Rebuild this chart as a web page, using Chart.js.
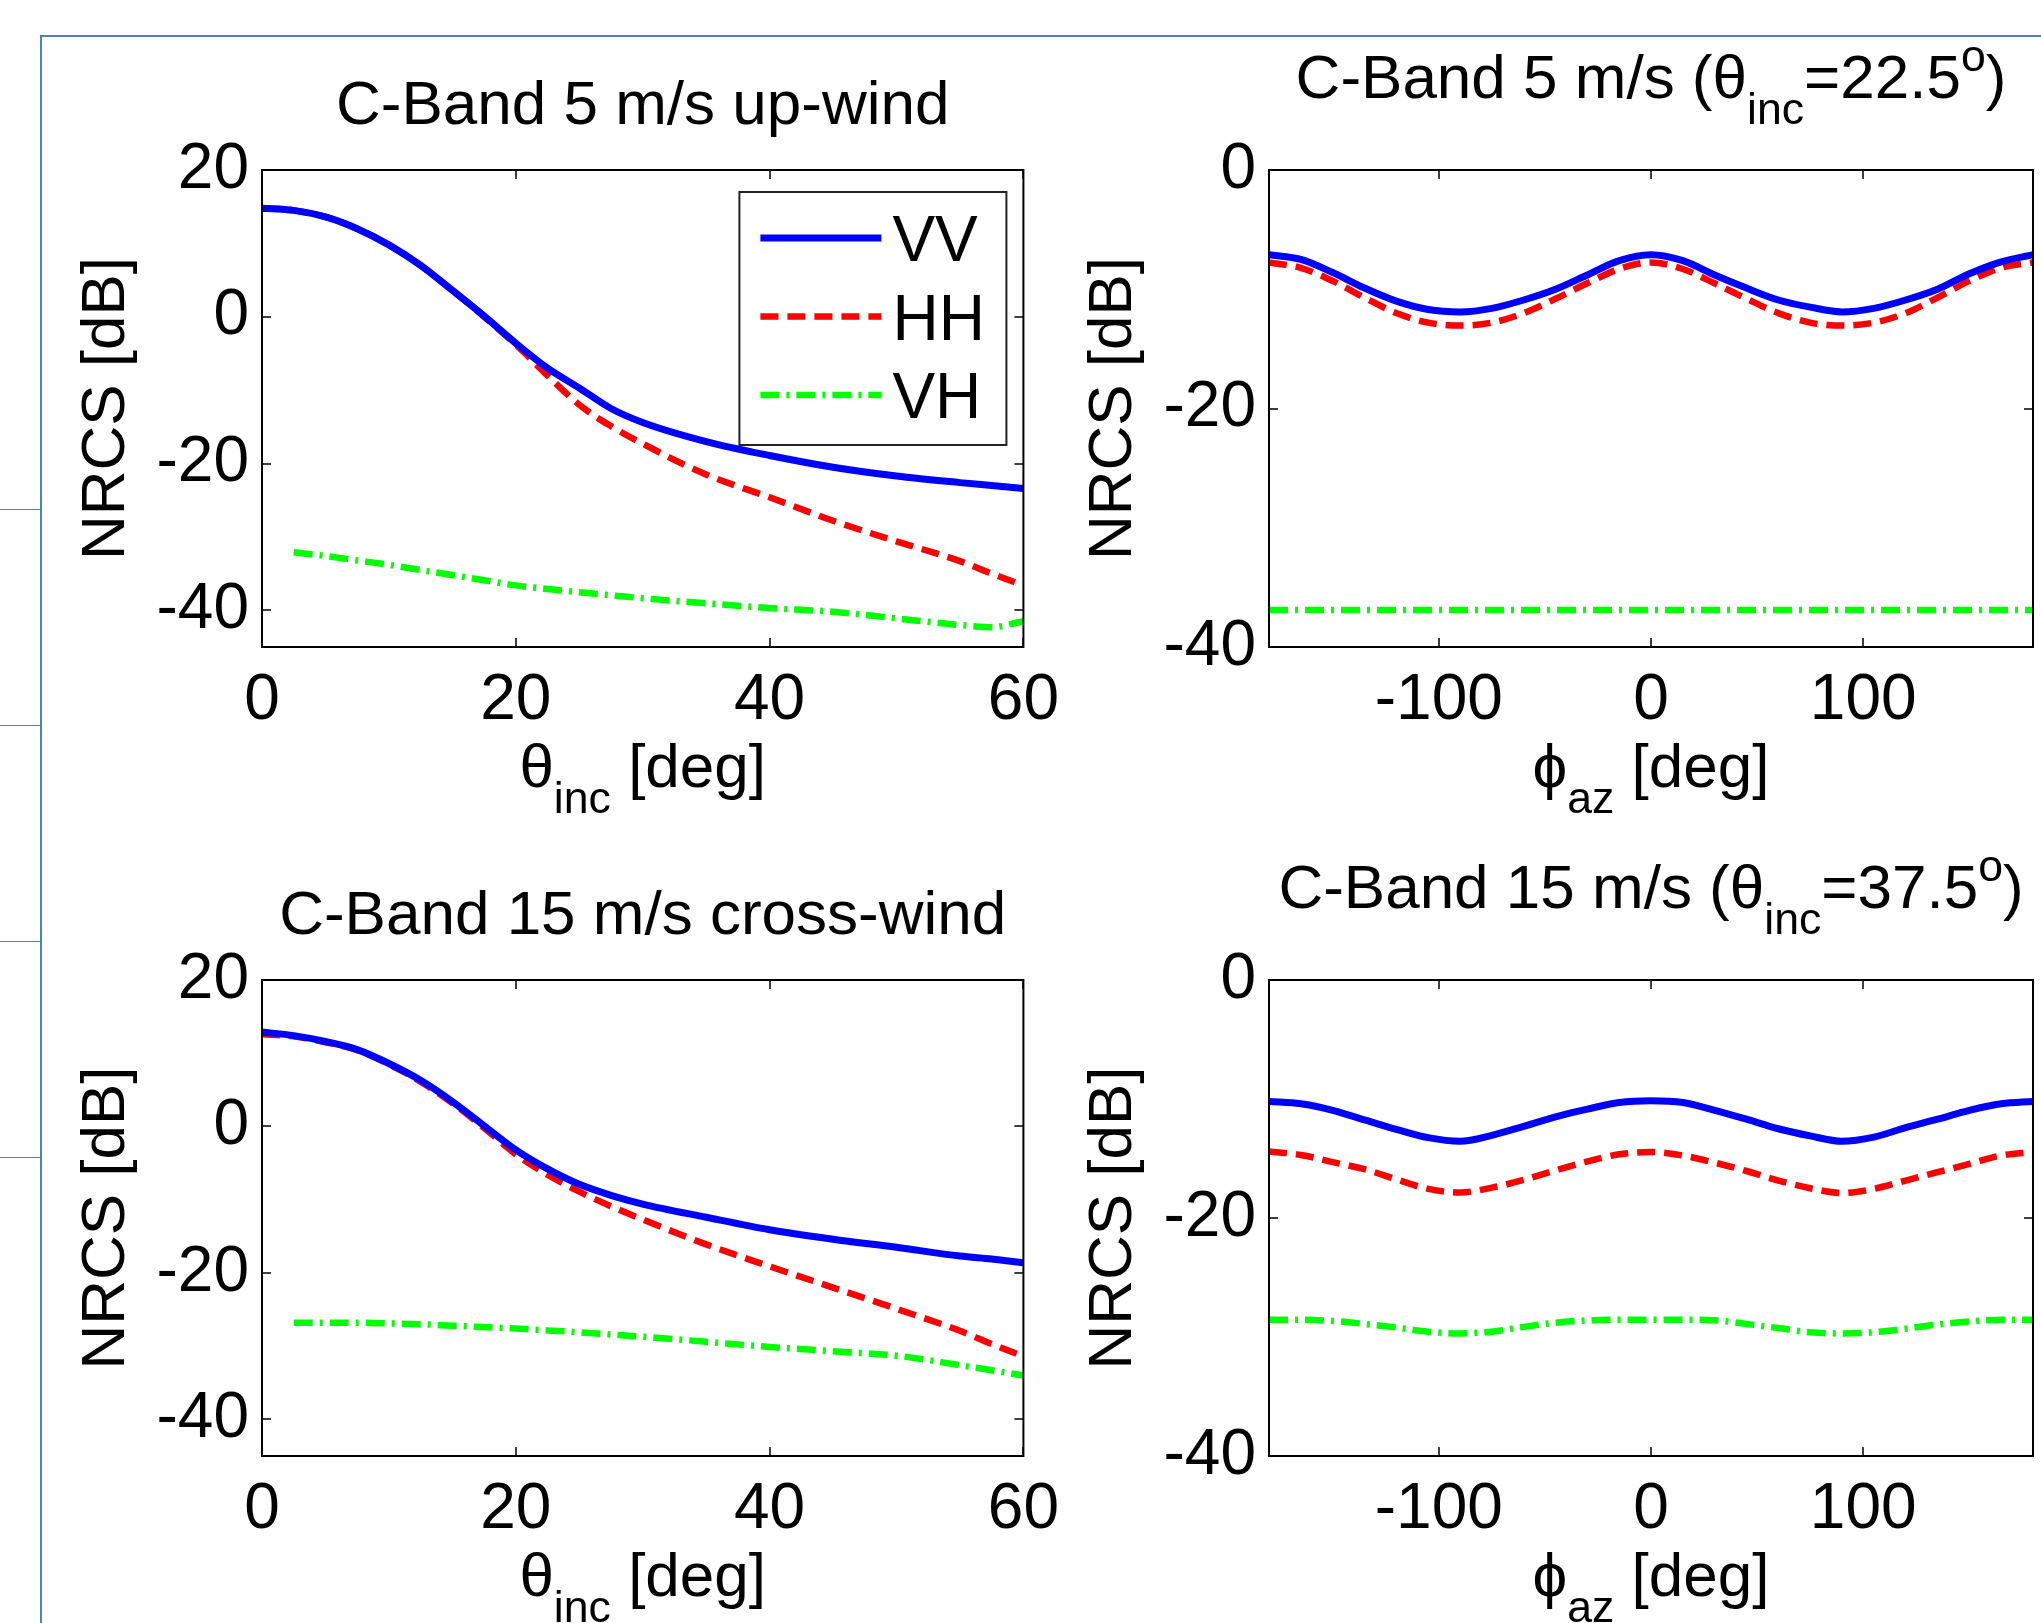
<!DOCTYPE html>
<html lang="en">
<head>
  <meta charset="UTF-8" />
  <title>C-Band NRCS</title>
  <style>
    html, body { margin: 0; padding: 0; background: #fff; }
    #page { position: relative; width: 2041px; height: 1623px; overflow: hidden; background: #fff; }
    #page canvas { position: absolute; }
    .rule { position: absolute; background: #4f81bd; }
  </style>
</head>
<body>
  <div id="page">
    <div class="rule" style="left:40px; top:35px; width:2001px; height:2px;"></div>
    <div class="rule" style="left:40px; top:35px; width:2px; height:1588px;"></div>
    <div class="rule" style="left:0; top:509px; width:40px; height:1px;"></div>
    <div class="rule" style="left:0; top:725px; width:40px; height:1px;"></div>
    <div class="rule" style="left:0; top:941px; width:40px; height:1px;"></div>
    <div class="rule" style="left:0; top:1157px; width:40px; height:1px;"></div>

    <canvas id="upwind"></canvas>
    <canvas id="az5"></canvas>
    <canvas id="crosswind"></canvas>
    <canvas id="az15"></canvas>
  </div>

  <script src="https://cdn.jsdelivr.net/npm/chart.js"></script>
  <script>
    // incidence angle sweeps [deg] -> NRCS [dB]
    const incAngles = [0, 2.5, 5, 7.5, 10, 12.5, 15, 17.5, 20, 22.5, 25, 27.5, 30, 35, 40, 45, 50, 55, 57.5, 60];

    const vvUpwind5 = [14.8, 14.5, 13.6, 12.0, 9.8, 7.0, 3.6, 0.1, -3.6, -7.0, -9.7, -12.5, -14.4, -17.0, -18.9, -20.5, -21.7, -22.6, -23.0, -23.4];
    const hhUpwind5 = [14.8, 14.5, 13.6, 12.0, 9.8, 7.0, 3.6, 0.0, -3.8, -8.0, -12.0, -14.9, -17.3, -21.5, -24.6, -27.8, -30.6, -33.3, -35.0, -36.6];
    const vhUpwind5 = [null, -32.1, -32.6, -33.2, -33.8, -34.5, -35.2, -35.9, -36.6, -37.1, -37.55, -37.95, -38.35, -39.05, -39.7, -40.2, -41.1, -42.0, -42.3, -41.5];

    const vvCross15 = [12.9, 12.4, 11.6, 10.5, 8.6, 6.3, 3.4, 0.1, -3.2, -5.8, -7.9, -9.4, -10.6, -12.4, -14.1, -15.4, -16.5, -17.7, -18.1, -18.6];
    const hhCross15 = [12.6, 12.3, 11.5, 10.4, 8.5, 6.1, 3.2, -0.2, -3.8, -6.6, -8.9, -10.9, -12.7, -16.1, -19.1, -22.0, -24.9, -27.9, -29.7, -31.4];
    const vhCross15 = [null, -26.8, -26.8, -26.8, -26.9, -27.0, -27.2, -27.4, -27.6, -27.85, -28.1, -28.4, -28.7, -29.4, -30.1, -30.7, -31.3, -32.6, -33.3, -34.0];

    // azimuth sweeps [deg] -> NRCS [dB]
    const azAngles = [-180, -165, -150, -135, -120, -105, -90, -75, -60, -45, -30, -15, 0, 15, 30, 45, 60, 75, 90, 105, 120, 135, 150, 165, 180];

    const vvAz5 = [-7.1, -7.5, -8.6, -9.9, -11.0, -11.7, -11.9, -11.6, -10.9, -10.0, -8.8, -7.6, -7.1, -7.6, -8.8, -9.9, -10.9, -11.5, -11.9, -11.6, -10.9, -10.0, -8.7, -7.7, -7.1];
    const hhAz5 = [-7.75, -8.2, -9.3, -10.7, -12.0, -12.8, -13.05, -12.8, -12.0, -10.8, -9.5, -8.3, -7.75, -8.3, -9.5, -10.8, -12.0, -12.8, -13.05, -12.8, -12.0, -10.7, -9.3, -8.2, -7.75];
    const vhAz5 = [-36.9, -36.9, -36.9, -36.9, -36.9, -36.9, -36.9, -36.9, -36.9, -36.9, -36.9, -36.9, -36.9, -36.9, -36.9, -36.9, -36.9, -36.9, -36.9, -36.9, -36.9, -36.9, -36.9, -36.9, -36.9];

    const vvAz15 = [-10.2, -10.4, -10.95, -11.75, -12.55, -13.25, -13.55, -13.05, -12.3, -11.5, -10.85, -10.3, -10.15, -10.3, -10.95, -11.7, -12.5, -13.1, -13.55, -13.2, -12.4, -11.7, -10.95, -10.4, -10.2];
    const hhAz15 = [-14.4, -14.7, -15.3, -15.9, -16.75, -17.55, -17.85, -17.45, -16.8, -16.0, -15.25, -14.65, -14.45, -14.75, -15.35, -16.05, -16.85, -17.5, -17.9, -17.55, -16.85, -16.15, -15.45, -14.75, -14.45];
    const vhAz15 = [-28.55, -28.55, -28.65, -28.9, -29.2, -29.55, -29.7, -29.55, -29.15, -28.8, -28.6, -28.55, -28.55, -28.55, -28.6, -28.9, -29.25, -29.6, -29.7, -29.6, -29.3, -28.95, -28.7, -28.55, -28.55];

    // ticks
    const incTicks = [0, 20, 40, 60];
    const azTicks = [-100, 0, 100];
    const nrcsTicksInc = [-40, -20, 0, 20];
    const nrcsTicksAz = [-40, -20, 0];

    const polLabels = ['VV', 'HH', 'VH'];

    const FONT = '"Liberation Sans", Arial, Helvetica, sans-serif';
    const TEXT_SIZE = 62;
    const TICK_SIZE = 64;
    const TICK_LEN = 9;
    const Y_W = 120;   // fixed width of the y scale box
    const X_H = 90;    // fixed height of the x scale box

    // draws a run of text pieces; 'sub'/'sup' pieces are smaller and shifted
    function drawParts(ctx, parts, x, y, size) {
      const pieces = parts.map(([txt, kind]) => {
        const s = kind ? size * 0.72 : size;
        ctx.font = s + 'px ' + FONT;
        return { txt, kind, s, w: ctx.measureText(txt).width };
      });
      const total = pieces.reduce((sum, p) => sum + p.w, 0);
      let cx = x - total / 2;
      ctx.textAlign = 'left';
      ctx.textBaseline = 'alphabetic';
      pieces.forEach(p => {
        ctx.font = p.s + 'px ' + FONT;
        const dy = p.kind === 'sub' ? size * 0.42 : p.kind === 'sup' ? -size * 0.44 : 0;
        ctx.fillText(p.txt, cx, y + dy);
        cx += p.w;
      });
    }

    // frame, inward ticks, titles, axis labels and the boxed legend
    const panelDecor = {
      id: 'panelDecor',
      afterDatasetsDraw(chart) {
        const { ctx, chartArea: a } = chart;
        const xs = chart.scales.x, ys = chart.scales.y;
        ctx.save();
        ctx.strokeStyle = '#000';
        ctx.lineWidth = 1.5;
        ctx.beginPath();
        xs.ticks.forEach(t => {
          const px = Math.round(xs.getPixelForValue(t.value));
          ctx.moveTo(px, a.bottom); ctx.lineTo(px, a.bottom - TICK_LEN);
          ctx.moveTo(px, a.top); ctx.lineTo(px, a.top + TICK_LEN);
        });
        ys.ticks.forEach(t => {
          const py = Math.round(ys.getPixelForValue(t.value));
          ctx.moveTo(a.left, py); ctx.lineTo(a.left + TICK_LEN, py);
          ctx.moveTo(a.right, py); ctx.lineTo(a.right - TICK_LEN, py);
        });
        ctx.stroke();
        ctx.lineWidth = 2;
        ctx.strokeRect(a.left, a.top, a.right - a.left, a.bottom - a.top);
        ctx.restore();
      },
      afterDraw(chart, args, opts) {
        const { ctx, chartArea: a } = chart;
        const midX = (a.left + a.right) / 2;
        ctx.save();
        ctx.fillStyle = '#000';

        const lift = opts.title.some(p => p[1] === 'sub') ? 72 : 46;
        drawParts(ctx, opts.title, midX, a.top - lift, TEXT_SIZE);
        drawParts(ctx, opts.xLabel, midX, a.bottom + 140, TEXT_SIZE);

        ctx.save();
        ctx.translate(a.left - 138, (a.top + a.bottom) / 2);
        ctx.rotate(-Math.PI / 2);
        ctx.font = TEXT_SIZE + 'px ' + FONT;
        ctx.textAlign = 'center';
        ctx.textBaseline = 'alphabetic';
        ctx.fillText('NRCS [dB]', 0, 0);
        ctx.restore();

        if (opts.legend) {
          const bw = 267, bh = 253;
          const bx = a.right - 17 - bw, by = a.top + 22;
          ctx.fillStyle = '#fff';
          ctx.fillRect(bx, by, bw, bh);
          ctx.strokeStyle = '#222';
          ctx.lineWidth = 2;
          ctx.strokeRect(bx, by, bw, bh);
          chart.data.datasets.forEach((ds, i) => {
            const y = by + 46 + i * 78.5;
            ctx.strokeStyle = ds.borderColor;
            ctx.lineWidth = ds.borderWidth;
            ctx.setLineDash(ds.borderDash || []);
            ctx.beginPath();
            ctx.moveTo(bx + 21, y);
            ctx.lineTo(bx + 142, y);
            ctx.stroke();
            ctx.setLineDash([]);
            ctx.fillStyle = '#000';
            ctx.font = '64px ' + FONT;
            ctx.textAlign = 'left';
            ctx.textBaseline = 'alphabetic';
            ctx.fillText(ds.label, bx + 153, y + 23);
          });
        }
        ctx.restore();
      }
    };

    const lineStyles = [
      { borderColor: '#0000ff', borderWidth: 7, borderDash: [] },
      { borderColor: '#ff0000', borderWidth: 6.5, borderDash: [18, 9] },
      { borderColor: '#00ff00', borderWidth: 6.5, borderDash: [19, 7, 3, 7] }
    ];

    function points(xs, ys) {
      return xs.map((x, i) => ({ x, y: ys[i] })).filter(p => p.y !== null);
    }

    function makePanel(id, box, area, xs, series, xRange, xTicks, yRange, yTicks, title, xLabel, legend) {
      const [bx, by, bw, bh] = box, [l, t, r, b] = area;
      const canvas = document.getElementById(id);
      canvas.width = bw; canvas.height = bh;
      canvas.style.left = bx + 'px'; canvas.style.top = by + 'px';
      canvas.style.width = bw + 'px'; canvas.style.height = bh + 'px';

      const tickFont = { family: FONT, size: TICK_SIZE };
      return new Chart(canvas, {
        type: 'line',
        data: {
          datasets: series.map((ys, i) => Object.assign({
            label: polLabels[i],
            data: points(xs, ys),
            pointRadius: 0,
            fill: false,
            clip: 0,
            cubicInterpolationMode: 'monotone'
          }, lineStyles[i]))
        },
        options: {
          responsive: false,
          maintainAspectRatio: false,
          animation: false,
          devicePixelRatio: 1,
          events: [],
          layout: {
            padding: { left: l - bx - Y_W, top: t - by, right: bx + bw - r, bottom: by + bh - b - X_H }
          },
          scales: {
            x: {
              type: 'linear', min: xRange[0], max: xRange[1],
              afterBuildTicks: s => { s.ticks = xTicks.map(v => ({ value: v })); },
              afterFit: s => { s.height = X_H; },
              grid: { display: false, drawTicks: false },
              border: { display: false },
              ticks: { padding: 16, maxRotation: 0, autoSkip: false, color: '#000', font: tickFont, callback: v => String(v) }
            },
            y: {
              min: yRange[0], max: yRange[1],
              afterBuildTicks: s => { s.ticks = yTicks.map(v => ({ value: v })); },
              afterFit: s => { s.width = Y_W; },
              grid: { display: false, drawTicks: false },
              border: { display: false },
              ticks: { padding: 13, autoSkip: false, color: '#000', font: tickFont, callback: v => String(v) }
            }
          },
          plugins: {
            legend: { display: false },
            tooltip: { enabled: false },
            title: { display: false },
            panelDecor: { title, xLabel, legend }
          }
        },
        plugins: [panelDecor]
      });
    }

    const thetaLabel = [['\u03B8', ''], ['inc', 'sub'], [' [deg]', '']];
    const phiLabel = [['\u03D5', ''], ['az', 'sub'], [' [deg]', '']];

    makePanel('upwind', [45, 40, 1030, 790], [262, 170, 1026, 647],
      incAngles, [vvUpwind5, hhUpwind5, vhUpwind5], [0, 60], incTicks, [-45, 20], nrcsTicksInc,
      [['C-Band 5 m/s up-wind', '']], thetaLabel, true);

    makePanel('az5', [1077, 40, 964, 790], [1269, 170, 2033, 647],
      azAngles, [vvAz5, hhAz5, vhAz5], [-180, 180], azTicks, [-40, 0], nrcsTicksAz,
      [['C-Band 5 m/s (', ''], ['\u03B8', ''], ['inc', 'sub'], ['=22.5', ''], ['o', 'sup'], [')', '']], phiLabel, false);

    makePanel('crosswind', [45, 840, 1030, 783], [262, 980, 1026, 1456],
      incAngles, [vvCross15, hhCross15, vhCross15], [0, 60], incTicks, [-45, 20], nrcsTicksInc,
      [['C-Band 15 m/s cross-wind', '']], thetaLabel, false);

    makePanel('az15', [1077, 840, 964, 783], [1269, 980, 2033, 1456],
      azAngles, [vvAz15, hhAz15, vhAz15], [-180, 180], azTicks, [-40, 0], nrcsTicksAz,
      [['C-Band 15 m/s (', ''], ['\u03B8', ''], ['inc', 'sub'], ['=37.5', ''], ['o', 'sup'], [')', '']], phiLabel, false);
  </script>
</body>
</html>
